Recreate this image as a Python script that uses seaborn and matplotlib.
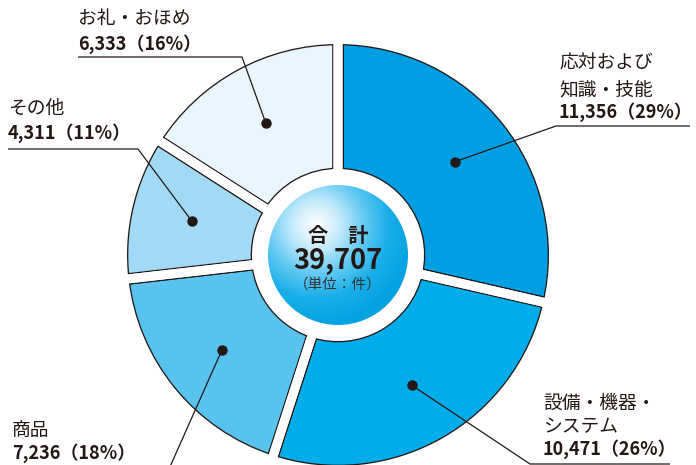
import numpy as np
import matplotlib
matplotlib.use("Agg")
import matplotlib.pyplot as plt
from matplotlib.patches import Circle
import seaborn as sns

# ==============================
# DATI
# ==============================
categorie = ["応対および\n知識・技能", "設備・機器・\nシステム", "商品", "その他", "お礼・おほめ"]
valori = [11356, 10471, 7236, 4311, 6333]
percentuali = [29, 26, 18, 11, 16]
colori = ["#009fe3", "#00ace9", "#58c3ef", "#a2d9f6", "#eaf6fd"]
totale = sum(valori)

# ==============================
# STILE
# ==============================
sns.set_style("white")
plt.rcParams["font.family"] = ["Noto Sans CJK JP", "DejaVu Sans"]

INK = "#231815"
CX, CY = 338, 255          # centro in pixel (asse y invertito)
R_OUT = 215.5              # raggio torta
R_IN = 81.5                # raggio interno anello
GAP = 9                    # px di spazio bianco tra le fette
OUT = 1.3                  # px contorno scuro
PX = 0.72                  # punti per pixel a 100 dpi

fig = plt.figure(figsize=(6.96, 4.65), dpi=100)
ax = fig.add_axes([0, 0, 1, 1])

# passo 1: fette con bordo scuro spesso
ax.pie(
    valori,
    colors=colori,
    startangle=-90,
    counterclock=True,
    radius=R_OUT,
    center=(CX, CY),
    wedgeprops=dict(width=R_OUT - R_IN, edgecolor=INK,
                    linewidth=(GAP + 2 * OUT) * PX, joinstyle="miter"),
)
# passo 2: bordo bianco che apre lo spazio tra le fette
ax.pie(
    valori,
    colors=["none"] * len(valori),
    startangle=-90,
    counterclock=True,
    radius=R_OUT,
    center=(CX, CY),
    wedgeprops=dict(width=R_OUT - R_IN, facecolor="none", edgecolor="white",
                    linewidth=GAP * PX, joinstyle="miter"),
)

# pulizia bordo esterno e foro centrale
ax.add_patch(Circle((CX, CY), R_OUT + 6, fill=False, edgecolor="white",
                    linewidth=6 * PX, zorder=3))
ax.add_patch(Circle((CX, CY), R_IN - 1, facecolor="white", edgecolor="none", zorder=3))

# cerchio centrale con gradiente
hub_r = 70
cmap = sns.blend_palette(["#ffffff", "#c4eafb", "#62c9f2", "#1aafe9", "#06a2e1"], as_cmap=True)
gx, gy = np.meshgrid(np.linspace(CX - hub_r, CX + hub_r, 300),
                     np.linspace(CY - hub_r, CY + hub_r, 300))
hx, hy = CX - 22, CY - 30
dist = np.hypot(gx - hx, gy - hy) / (hub_r * 1.4)
img = ax.imshow(np.clip(dist, 0, 1), cmap=cmap, vmin=0, vmax=1,
                extent=(CX - hub_r, CX + hub_r, CY + hub_r, CY - hub_r),
                zorder=4, interpolation="bilinear")
img.set_clip_path(Circle((CX, CY), hub_r, transform=ax.transData))

ax.text(CX, 235, "合　計", ha="center", va="center", fontsize=14.5,
        fontweight="bold", color=INK, zorder=5)
ax.text(CX, 261, f"{totale:,}", ha="center", va="center", fontsize=19.5,
        fontweight="bold", color=INK, zorder=5)
ax.text(CX, 285, "（単位：件）", ha="center", va="center", fontsize=10.5,
        color="#333333", zorder=5)

# ==============================
# ETICHETTE E LINEE GUIDA
# ==============================
frazioni = np.array(valori) / totale
cum = np.concatenate([[0], np.cumsum(frazioni)])
mid = np.deg2rad(-90 + 360 * (cum[:-1] + frazioni / 2))
R_DOT = 150

# posizione testo (x, y righe) e percorso della linea guida
layout = [
    dict(x=559, ys=[63, 90, 112], path=[(556, 126), (690, 126)]),
    dict(x=543, ys=[403, 427, 449], path=[(530, 464), (670, 464)]),
    dict(x=12, ys=[430, 453], path=[(165, 478)]),
    dict(x=8, ys=[108, 133], path=[(138, 149), (8, 149)]),
    dict(x=78, ys=[18, 44], path=[(242, 57), (78, 57)]),
]

for nome, v, p, ang, lay in zip(categorie, valori, percentuali, mid, layout):
    dx = CX + R_DOT * np.cos(ang)
    dy = CY + R_DOT * np.sin(ang)
    xs = [dx] + [pt[0] for pt in lay["path"]]
    ys = [dy] + [pt[1] for pt in lay["path"]]
    ax.plot(xs, ys, color=INK, linewidth=0.9, zorder=6, solid_capstyle="butt")
    ax.plot(dx, dy, "o", color=INK, markersize=6.5, zorder=7)

    righe = nome.split("\n")
    for riga, y in zip(righe, lay["ys"]):
        ax.text(lay["x"], y, riga, ha="left", va="center", fontsize=13.5,
                color=INK, zorder=6)
    ax.text(lay["x"], lay["ys"][-1], f"{v:,}（{p}%）", ha="left", va="center",
            fontsize=13, fontweight="bold", color=INK, zorder=6)

ax.set_xlim(0, 696)
ax.set_ylim(465, 0)
ax.set_aspect("equal")
ax.axis("off")

fig.savefig("out.png", dpi=100)
